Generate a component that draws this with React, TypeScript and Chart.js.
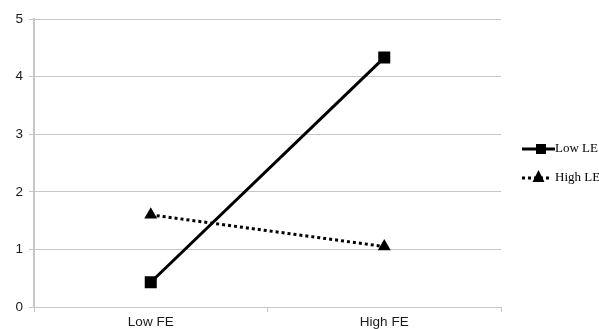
import React, { useEffect, useRef } from "react";
import { Chart, registerables } from "chart.js";

Chart.register(...registerables);

const categories = ["Low FE", "High FE"];
const lowLE = [0.43, 4.33];
const highLE = [1.6, 1.05];
const seriesNames = ["Low LE", "High LE"];
const yTicks = [0, 1, 2, 3, 4, 5];

const GRID = "#c6c6c6";
const TICK_FONT = "'Liberation Sans', Arial, sans-serif";

const legendPlugin = {
  id: "customLegend",
  afterDraw(chart: any) {
    const ctx = chart.ctx;
    const rows = [
      { y: 149, x0: 522, x1: 555, mx: 541, tx: 555, dash: [] as number[], style: "rect" },
      { y: 178, x0: 522, x1: 552, mx: 538.5, tx: 555, dash: [3, 3], style: "triangle" },
    ];
    chart.data.datasets.forEach((ds: any, i: number) => {
      const r = rows[i];
      ctx.save();
      ctx.strokeStyle = "#000";
      ctx.fillStyle = "#000";
      ctx.lineWidth = 3;
      ctx.setLineDash(r.dash);
      ctx.beginPath();
      ctx.moveTo(r.x0, r.y);
      ctx.lineTo(r.x1, r.y);
      ctx.stroke();
      ctx.setLineDash([]);
      if (r.style === "rect") {
        ctx.fillRect(r.mx - 5, r.y - 5, 10, 10);
      } else {
        ctx.beginPath();
        ctx.moveTo(r.mx, r.y - 8);
        ctx.lineTo(r.mx + 6, r.y + 4);
        ctx.lineTo(r.mx - 6, r.y + 4);
        ctx.closePath();
        ctx.fill();
      }
      ctx.font = "13px 'Liberation Serif', 'DejaVu Serif', serif";
      ctx.textBaseline = "middle";
      ctx.textAlign = "left";
      ctx.fillText(ds.label, r.tx, r.y);
      ctx.restore();
    });
  },
};

export default function App() {
  const ref = useRef<HTMLCanvasElement>(null);
  useEffect(() => {
    document.body.style.margin = "0";
    const chart = new Chart(ref.current!, {
      type: "line",
      data: {
        labels: categories,
        datasets: [
          {
            label: seriesNames[0],
            data: lowLE,
            borderColor: "#000",
            backgroundColor: "#000",
            borderWidth: 3,
            pointStyle: "rect",
            pointRadius: 8.5,
            pointHoverRadius: 8.5,
            pointBackgroundColor: "#000",
            pointBorderColor: "#000",
            pointBorderWidth: 0,
          },
          {
            label: seriesNames[1],
            data: highLE,
            borderColor: "#000",
            backgroundColor: "#000",
            borderWidth: 3,
            borderDash: [3, 3],
            pointStyle: "triangle",
            pointRadius: 7.5,
            pointHoverRadius: 7.5,
            pointBackgroundColor: "#000",
            pointBorderColor: "#000",
            pointBorderWidth: 0,
          },
        ],
      },
      options: {
        animation: false,
        responsive: false,
        events: [],
        layout: { padding: { top: 19, right: 98, left: 0, bottom: 0 } },
        plugins: { legend: { display: false }, tooltip: { enabled: false } },
        scales: {
          x: {
            type: "category",
            offset: true,
            grid: {
              offset: true,
              color: (c: any) => (c.index === 2 ? GRID : "rgba(0,0,0,0)"),
              tickColor: GRID,
              tickLength: 5,
              lineWidth: 1,
            },
            border: { display: false },
            ticks: {
              color: "#1a1a1a",
              font: { family: TICK_FONT, size: 13.5 },
              padding: 2,
              maxRotation: 0,
            },
            afterFit: (s: any) => {
              s.height = 22;
            },
          },
          y: {
            min: 0,
            max: 5,
            afterBuildTicks: (s: any) => {
              s.ticks = yTicks.map((v) => ({ value: v }));
            },
            grid: { color: GRID, tickColor: GRID, tickLength: 5, lineWidth: 1 },
            border: { display: true, color: GRID, width: 2 },
            ticks: {
              color: "#1a1a1a",
              font: { family: TICK_FONT, size: 13.5 },
              padding: 6,
            },
            afterFit: (s: any) => {
              s.width = 34;
            },
          },
        },
      },
      plugins: [legendPlugin],
    });
    return () => chart.destroy();
  }, []);
  return (
    <div style={{ width: 599, height: 329 }}>
      <canvas ref={ref} width={599} height={329} style={{ display: "block" }} />
    </div>
  );
}
